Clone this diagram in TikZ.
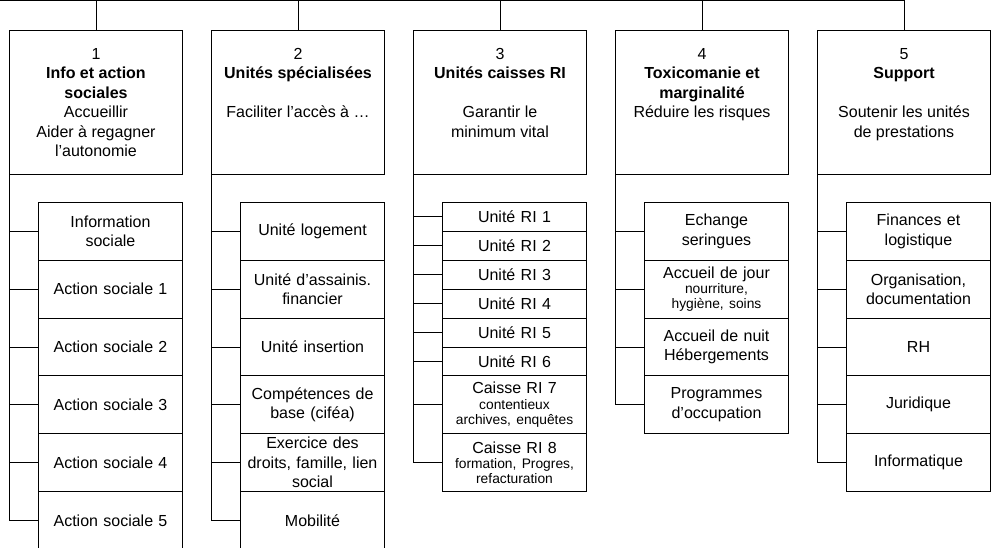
\documentclass[tikz,border=0pt]{standalone}
\usepackage{fontspec}
\setmainfont{Liberation Sans}
\newcommand{\mainsz}{\fontsize{16}{19.5}\selectfont}
\newcommand{\smallsz}{\fontsize{13.8}{15.3}\selectfont}
\newcommand{\toptext}[1]{\parbox[c][144pt][t]{170pt}{\centering\mainsz\rule{0pt}{29pt}#1}}
\frenchspacing
\begin{document}
\begin{tikzpicture}[x=1pt,y=-1pt,line width=1pt,
  topbox/.style={draw, anchor=north west, minimum width=173pt, minimum height=144pt, inner sep=0pt},
  subbox/.style={draw, anchor=north west, minimum width=144pt, minimum height=57.8pt, inner sep=0pt, text width=142pt, align=center, font=\mainsz},
  halfbox/.style={subbox, minimum height=28.9pt},
  link/.style={draw, line width=1pt}]
\clip (0,0) rectangle (991,548);
% top boxes
\node[topbox] (b1) at (9,30) {\toptext{1\\\textbf{Info et action}\\\textbf{sociales}\\Accueillir\\Aider à regagner\\l’autonomie}};
\node[topbox] (b2) at (211,30) {\toptext{2\\\textbf{Unités spécialisées}\\[19.5pt]Faciliter l’accès à …}};
\node[topbox] (b3) at (413,30) {\toptext{3\\\textbf{Unités caisses RI}\\[19.5pt]Garantir le\\minimum vital}};
\node[topbox] (b4) at (615,30) {\toptext{4\\\textbf{Toxicomanie et}\\\textbf{marginalité}\\Réduire les risques}};
\node[topbox] (b5) at (817,30) {\toptext{5\\\textbf{Support}\\[19.5pt]Soutenir les unités\\de prestations}};
% bus
\coordinate (busL) at (0,1);
\draw[link] (busL) -- (busL -| b5.north) -- (b5.north);
\foreach \b in {b1,b2,b3,b4} \draw[link] (\b.north |- busL) -- (\b.north);
% column 1
\node[subbox] (s11) at (38,202) {Information\\sociale};
\node[subbox] (s12) at (38,259.8) {Action sociale 1};
\node[subbox] (s13) at (38,317.6) {Action sociale 2};
\node[subbox] (s14) at (38,375.4) {Action sociale 3};
\node[subbox] (s15) at (38,433.2) {Action sociale 4};
\node[subbox] (s16) at (38,491) {Action sociale 5};
% column 2
\node[subbox] (s21) at (240,202) {Unité logement};
\node[subbox] (s22) at (240,259.8) {Unité d’assainis.\\financier};
\node[subbox] (s23) at (240,317.6) {Unité insertion};
\node[subbox] (s24) at (240,375.4) {Compétences de\\base (ciféa)};
\node[subbox] (s25) at (240,433.2) {Exercice des\\droits, famille, lien\\social};
\node[subbox] (s26) at (240,491) {Mobilité};
% column 3
\node[halfbox] (s31) at (442,202) {Unité RI 1};
\node[halfbox] (s32) at (442,230.9) {Unité RI 2};
\node[halfbox] (s33) at (442,259.8) {Unité RI 3};
\node[halfbox] (s34) at (442,288.7) {Unité RI 4};
\node[halfbox] (s35) at (442,317.6) {Unité RI 5};
\node[halfbox] (s36) at (442,346.5) {Unité RI 6};
\node[subbox] (s37) at (442,375.4) {Caisse RI 7\par{\smallsz contentieux\\archives, enquêtes\par}};
\node[subbox] (s38) at (442,433.2) {Caisse RI 8\par{\smallsz formation, Progres,\\refacturation\par}};
% column 4
\node[subbox] (s41) at (644,202) {Echange\\seringues};
\node[subbox] (s42) at (644,259.8) {Accueil de jour\par{\smallsz nourriture,\\hygiène, soins\par}};
\node[subbox] (s43) at (644,317.6) {Accueil de nuit\\Hébergements};
\node[subbox] (s44) at (644,375.4) {Programmes\\d’occupation};
% column 5
\node[subbox] (s51) at (846,202) {Finances et\\logistique};
\node[subbox] (s52) at (846,259.8) {Organisation,\\documentation};
\node[subbox] (s53) at (846,317.6) {RH};
\node[subbox] (s54) at (846,375.4) {Juridique};
\node[subbox] (s55) at (846,433.2) {Informatique};
% trunks and branches
\draw[link] (b1.south west) |- (s16.west);
\foreach \s in {s11,s12,s13,s14,s15} \draw[link] (b1.south west |- \s.west) -- (\s.west);
\draw[link] (b2.south west) |- (s26.west);
\foreach \s in {s21,s22,s23,s24,s25} \draw[link] (b2.south west |- \s.west) -- (\s.west);
\draw[link] (b3.south west) |- (s38.west);
\foreach \s in {s31,s32,s33,s34,s35,s36,s37} \draw[link] (b3.south west |- \s.west) -- (\s.west);
\draw[link] (b4.south west) |- (s44.west);
\foreach \s in {s41,s42,s43} \draw[link] (b4.south west |- \s.west) -- (\s.west);
\draw[link] (b5.south west) |- (s55.west);
\foreach \s in {s51,s52,s53,s54} \draw[link] (b5.south west |- \s.west) -- (\s.west);
\end{tikzpicture}
\end{document}
